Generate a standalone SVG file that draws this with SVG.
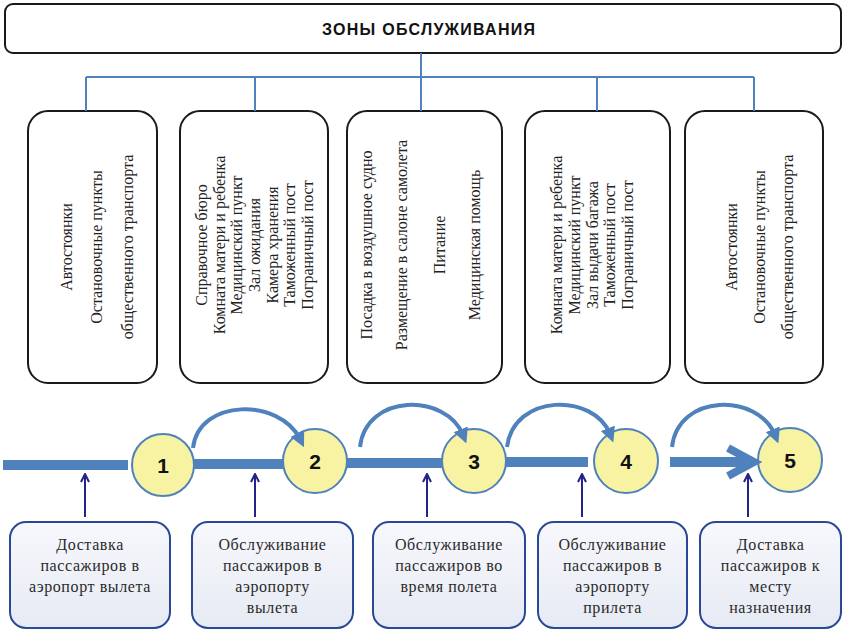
<svg xmlns="http://www.w3.org/2000/svg" width="845" height="630" viewBox="0 0 845 630">
  <defs>
    <style>
      .hdr { fill: #ffffff; stroke: #1a1a1a; stroke-width: 2; }
      .hdrtxt { font-family: "Liberation Sans", Arial, sans-serif; font-weight: bold; font-size: 16px; fill: #111; }
      .zone { fill: #ffffff; stroke: #1a1a1a; stroke-width: 2; }
      .vt { font-family: "Liberation Serif", "Times New Roman", serif; font-size: 16px; fill: #222; text-anchor: middle; }
      .tree { fill: none; stroke: #4f81bd; stroke-width: 2; }
      .track { fill: none; stroke: #4f81bd; stroke-width: 10; }
      .stage { fill: #f8f3a2; stroke: #4f81bd; stroke-width: 2; }
      .num { font-family: "Liberation Sans", Arial, sans-serif; font-weight: bold; font-size: 21px; fill: #111; text-anchor: middle; }
      .hop { fill: none; stroke: #4f81bd; stroke-width: 4; marker-end: url(#head); }
      .up { fill: none; stroke: #23238a; stroke-width: 2; marker-end: url(#vhead); }
      .step { fill: url(#boxfill); stroke: #2a4896; stroke-width: 2; }
      .st { font-family: "Liberation Serif", "Times New Roman", serif; font-size: 16px; fill: #2a2a2a; text-anchor: middle; letter-spacing: 0.6px; }
    </style>
    <linearGradient id="boxfill" x1="0" y1="0" x2="0" y2="1">
      <stop offset="0" stop-color="#f7f8fc"/>
      <stop offset="1" stop-color="#e6eaf3"/>
    </linearGradient>
    <marker id="head" viewBox="0 0 4 4" refX="1.6" refY="2" markerWidth="3.8" markerHeight="3.8" orient="auto">
      <path d="M0,0 L4,2 L0,4 z" fill="#4f81bd"/>
    </marker>
    <marker id="vhead" viewBox="0 0 10 10" refX="9" refY="5" markerWidth="10" markerHeight="10" markerUnits="userSpaceOnUse" orient="auto">
      <path d="M1,1 L9,5 L1,9" fill="none" stroke="#23238a" stroke-width="2"/>
    </marker>
  </defs>

  <g id="header">
    <rect class="hdr" x="5" y="4" width="836" height="49" rx="8"/>
    <text class="hdrtxt" x="322" y="35" textLength="213" lengthAdjust="spacing">ЗОНЫ  ОБСЛУЖИВАНИЯ</text>
  </g>

  <g id="zone1">
    <rect class="zone" x="28" y="111" width="129" height="272" rx="20"/>
    <text class="vt" transform="translate(72,247) rotate(-90)">Автостоянки</text>
    <text class="vt" transform="translate(102,247) rotate(-90)">Остановочные пункты</text>
    <text class="vt" transform="translate(133,247) rotate(-90)">общественного транспорта</text>
  </g>

  <g id="zone2">
    <rect class="zone" x="180" y="111" width="148" height="272" rx="20"/>
    <text class="vt" transform="translate(207,245) rotate(-90)">Справочное бюро</text>
    <text class="vt" transform="translate(224.5,245) rotate(-90)">Комната матери и ребенка</text>
    <text class="vt" transform="translate(242,245) rotate(-90)">Медицинский пункт</text>
    <text class="vt" transform="translate(260,245) rotate(-90)">Зал ожидания</text>
    <text class="vt" transform="translate(277.5,245) rotate(-90)">Камера хранения</text>
    <text class="vt" transform="translate(295,245) rotate(-90)">Таможенный пост</text>
    <text class="vt" transform="translate(312.5,245) rotate(-90)">Пограничный пост</text>
  </g>

  <g id="zone3">
    <rect class="zone" x="347" y="111" width="155" height="272" rx="20"/>
    <text class="vt" transform="translate(372,245) rotate(-90)">Посадка в воздушное судно</text>
    <text class="vt" transform="translate(407,245) rotate(-90)">Размещение в салоне самолета</text>
    <text class="vt" transform="translate(445,245) rotate(-90)">Питание</text>
    <text class="vt" transform="translate(480,245) rotate(-90)">Медицинская помощь</text>
  </g>

  <g id="zone4">
    <rect class="zone" x="525" y="111" width="145" height="272" rx="20"/>
    <text class="vt" transform="translate(562,245) rotate(-90)">Комната матери и ребенка</text>
    <text class="vt" transform="translate(580,245) rotate(-90)">Медицинский пункт</text>
    <text class="vt" transform="translate(598,245) rotate(-90)">Зал выдачи багажа</text>
    <text class="vt" transform="translate(615,245) rotate(-90)">Таможенный пост</text>
    <text class="vt" transform="translate(633,245) rotate(-90)">Пограничный пост</text>
  </g>

  <g id="zone5">
    <rect class="zone" x="685" y="111" width="138" height="272" rx="20"/>
    <text class="vt" transform="translate(737,247) rotate(-90)">Автостоянки</text>
    <text class="vt" transform="translate(765,247) rotate(-90)">Остановочные пункты</text>
    <text class="vt" transform="translate(793,247) rotate(-90)">общественного транспорта</text>
  </g>

  <g id="stage1">
    <circle class="stage" cx="163" cy="465" r="31"/>
    <text class="num" x="163" y="473">1</text>
  </g>
  <g id="stage2">
    <circle class="stage" cx="315" cy="461" r="32"/>
    <text class="num" x="315" y="469">2</text>
  </g>
  <g id="stage3">
    <circle class="stage" cx="474" cy="461" r="32"/>
    <text class="num" x="474" y="469">3</text>
  </g>
  <g id="stage4">
    <circle class="stage" cx="626" cy="461" r="32"/>
    <text class="num" x="626" y="469">4</text>
  </g>
  <g id="stage5">
    <circle class="stage" cx="790" cy="460" r="32"/>
    <text class="num" x="790" y="468">5</text>
  </g>

  <g id="step1">
    <rect class="step" x="10" y="522" width="160" height="106" rx="16"/>
    <text class="st" x="90" y="550">Доставка</text>
    <text class="st" x="90" y="571">пассажиров в</text>
    <text class="st" x="90" y="592">аэропорт вылета</text>
  </g>
  <g id="step2">
    <rect class="step" x="192" y="522" width="161" height="106" rx="16"/>
    <text class="st" x="272.5" y="550">Обслуживание</text>
    <text class="st" x="272.5" y="571">пассажиров в</text>
    <text class="st" x="272.5" y="592">аэропорту</text>
    <text class="st" x="272.5" y="613">вылета</text>
  </g>
  <g id="step3">
    <rect class="step" x="373" y="522" width="152" height="106" rx="16"/>
    <text class="st" x="449" y="550">Обслуживание</text>
    <text class="st" x="449" y="571">пассажиров во</text>
    <text class="st" x="449" y="592">время полета</text>
  </g>
  <g id="step4">
    <rect class="step" x="538" y="522" width="149" height="106" rx="16"/>
    <text class="st" x="612.5" y="550">Обслуживание</text>
    <text class="st" x="612.5" y="571">пассажиров в</text>
    <text class="st" x="612.5" y="592">аэропорту</text>
    <text class="st" x="612.5" y="613">прилета</text>
  </g>
  <g id="step5">
    <rect class="step" x="700" y="522" width="141" height="106" rx="16"/>
    <text class="st" x="770.5" y="550">Доставка</text>
    <text class="st" x="770.5" y="571">пассажиров к</text>
    <text class="st" x="770.5" y="592">месту</text>
    <text class="st" x="770.5" y="613">назначения</text>
  </g>

  <g id="connectors">
    <path class="tree" d="M421,53 V77 M86,77 H754 M86,77 V111 M255,77 V111 M421,77 V111 M597,77 V111 M754,77 V111"/>
    <path class="track" d="M3,465 H128 M193,464 H284 M346,463 H443 M505,462 H588 M670,462 H750"/>
    <path d="M728,448 L754,462 L728,476" fill="none" stroke="#4f81bd" stroke-width="8" stroke-linejoin="miter"/>
    <path class="hop" d="M193,448 C199,398 280,398 300,439"/>
    <path class="hop" d="M360,447 C366,393 446,393 463,435"/>
    <path class="hop" d="M507,447 C514,393 594,393 610,434"/>
    <path class="hop" d="M672,447 C678,393 758,393 775,435"/>
    <path class="up" d="M85,517 V474"/>
    <path class="up" d="M255,517 V474"/>
    <path class="up" d="M427,517 V474"/>
    <path class="up" d="M582,517 V474"/>
    <path class="up" d="M748,517 V474"/>
  </g>
</svg>
